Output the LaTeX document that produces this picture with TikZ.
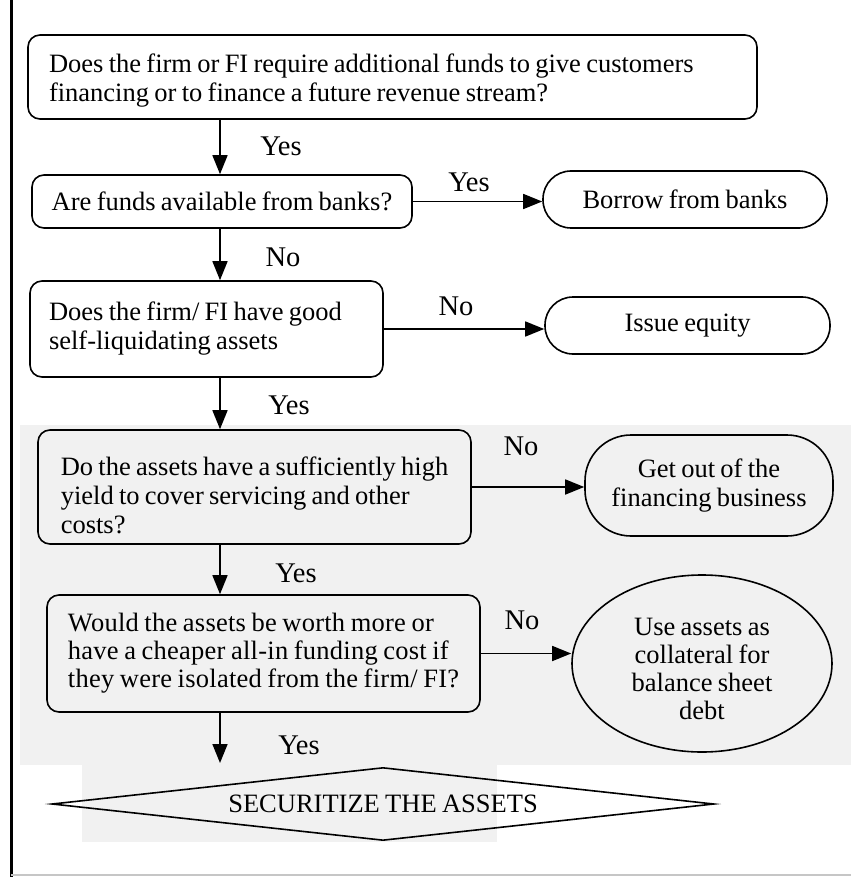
\documentclass[tikz,border=0pt]{standalone}
\usepackage{fontspec}
\setmainfont{Liberation Serif}[WordSpace=0.8]
\usetikzlibrary{arrows.meta,shapes.geometric}
\begin{document}
\begin{tikzpicture}[x=1pt,y=-1pt,
  every node/.style={font=\fontsize{26.5}{29}\selectfont},
  qbox/.style={draw, line width=1.6pt, rounded corners=12pt, align=left, inner ysep=0pt},
  endbox/.style={draw, line width=1.6pt, align=center, inner sep=0pt},
  arr/.style={line width=1.6pt, -{Triangle[length=19pt,width=15pt]}},
  lab/.style={inner sep=0pt, font=\fontsize{28.5}{30}\selectfont}]
\useasboundingbox (0,0) rectangle (851,877);
% scanned page background shading
\fill[gray!11] (20,425) rectangle (851,765);
\fill[gray!11] (82,765) rectangle (497,842);
% page frame
\draw[line width=3pt] (11,0) -- (11,877);
\draw[line width=1.5pt, gray!45] (11,875) -- (851,875);

\node[qbox, align=flush left, minimum width=729pt, minimum height=84pt, text width=687pt, inner xsep=21pt] (q1) at (392.5,77)
  {\rule{0pt}{26.5pt}Does the firm or FI require additional funds to give customers\\ financing or to finance a future revenue stream?};
\node[qbox, align=center, minimum width=380pt, minimum height=53pt] (q2) at (222,201.5)
  {Are funds available from banks?};
\node[endbox, rounded corners=28pt, minimum width=284pt, minimum height=57pt] (r1) at (685,199.5)
  {Borrow from banks};
\node[qbox, align=flush left, minimum width=353pt, minimum height=96pt, text width=315pt, inner xsep=19pt] (q3) at (206.5,329)
  {Does the firm/ FI have good\\ self-liquidating assets};
\node[endbox, rounded corners=28pt, minimum width=285pt, minimum height=57pt] (r2) at (687.5,325.5)
  {Issue equity};
\node[qbox, minimum width=433pt, minimum height=114pt, inner xsep=0pt] (q4) at (254.5,487)
  {\rule{0pt}{34.5pt}Do the assets have a sufficiently high\\ yield to cover servicing and other\\ costs?};
\node[endbox, rounded corners=46pt, minimum width=248pt, minimum height=101pt] (r3) at (709,485.5)
  {Get out of the\\ financing business};
\node[qbox, minimum width=433pt, minimum height=117pt, inner xsep=0pt,
      font=\fontsize{26.5}{28}\selectfont\addfontfeatures{LetterSpace=1}] (q5) at (263.5,653.5)
  {Would the assets be worth more or\\ have a cheaper all-in funding cost if\\ they were isolated from the firm/ FI?};
\node[endbox, ellipse, minimum width=260pt, minimum height=177pt,
      font=\fontsize{26.5}{28}\selectfont] (r4) at (702,663.5)
  {\rule{0pt}{27.5pt}Use assets as\\ collateral for\\ balance sheet\\ debt};
\node[draw, line width=1.6pt, diamond, shape aspect=9, inner sep=0pt, minimum width=662pt, minimum height=73pt] (d) at (383,804)
  {SECURITIZE THE ASSETS};

\coordinate (ax) at (220,0);
\coordinate (e5) at (220,763);

\draw[arr] (q1.south -| ax) -- (q2.north -| ax);
\draw[arr] (q2.south -| ax) -- (q3.north -| ax);
\draw[arr] (q3.south -| ax) -- (q4.north -| ax);
\draw[arr] (q4.south -| ax) -- (q5.north -| ax);
\draw[arr] (q5.south -| ax) -- (e5);
\draw[arr] (q2.east) -- (q2.east -| r1.west);
\draw[arr] (q3.east) -- (q3.east -| r2.west);
\draw[arr] (q4.east) -- (q4.east -| r3.west);
\draw[arr] (q5.east) -- (q5.east -| r4.west);

\node[lab] (y1) at (281,146) {Yes};
\node[lab] (y2) at (469,182) {Yes};
\node[lab] (n1) at (283,257) {No};
\node[lab] (n2) at (456,306) {No};
\node[lab] (y3) at (289,405) {Yes};
\node[lab] (n3) at (521,446) {No};
\node[lab] (y4) at (296,573) {Yes};
\node[lab] (n4) at (522,620) {No};
\node[lab] (y5) at (299,745) {Yes};
\end{tikzpicture}
\end{document}
